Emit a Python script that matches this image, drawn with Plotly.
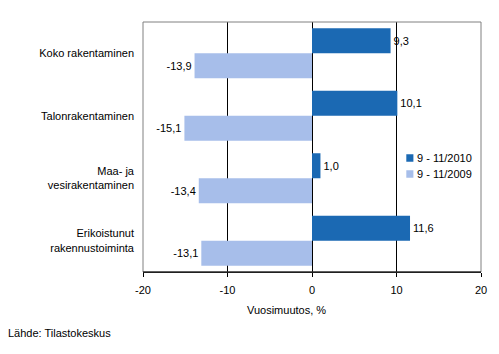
import plotly.graph_objects as go

categories = ["Koko rakentaminen", "Talonrakentaminen", "Maa- ja<br>vesirakentaminen",
              "Erikoistunut<br>rakennustoiminta"]
series_names = ["9 - 11/2010", "9 - 11/2009"]
values_2010 = [9.3, 10.1, 1.0, 11.6]
values_2009 = [-13.9, -15.1, -13.4, -13.1]
x_ticks = [-20, -10, 0, 10, 20]
colors = ["#1B69B3", "#A7BEEA"]

def fmt(v):
    return f"{v:.1f}".replace(".", ",")

fig = go.Figure()
for name, vals, col in zip(series_names, [values_2010, values_2009], colors):
    fig.add_trace(go.Bar(
        y=categories, x=vals, orientation="h", name=name,
        marker=dict(color=col, line=dict(width=0)),
        text=[fmt(v) for v in vals], textposition="outside",
        textfont=dict(family="Liberation Sans, Arial", size=11, color="black"),
        cliponaxis=False, showlegend=False,
    ))

shapes = [dict(type="rect", xref="paper", yref="paper", x0=0, x1=1, y0=0, y1=1,
               line=dict(color="#808080", width=1), layer="above"),
          dict(type="line", xref="paper", yref="paper", x0=0, x1=1, y0=0, y1=0,
               line=dict(color="black", width=1), layer="above")]
annotations = [
    dict(text="Vuosimuutos, %", xref="paper", yref="paper", x=0.426, y=-0.152,
         showarrow=False, xanchor="center", yanchor="middle", font=dict(size=11)),
    dict(text="Lähde: Tilastokeskus", xref="paper", yref="paper", x=-0.406, y=-0.244,
         showarrow=False, xanchor="left", yanchor="middle", font=dict(size=11)),
]
# custom legend (small squares + labels)
leg_y = [0.456, 0.392]
for name, col, yc in zip(series_names, colors, leg_y):
    shapes.append(dict(type="rect", xref="paper", yref="paper",
                       x0=0.779, x1=0.800, y0=yc - 0.015, y1=yc + 0.015,
                       fillcolor=col, line=dict(width=0), layer="above"))
    annotations.append(dict(text=name, xref="paper", yref="paper", x=0.806, y=yc,
                            showarrow=False, xanchor="left", yanchor="middle",
                            font=dict(size=11)))

fig.update_layout(
    width=499, height=354,
    margin=dict(l=143, r=16, t=22, b=82),
    paper_bgcolor="white", plot_bgcolor="white",
    barmode="group", bargap=0.2, bargroupgap=0,
    font=dict(family="Liberation Sans, Arial", size=11, color="black"),
    showlegend=False,
    xaxis=dict(range=[-20, 20], tickvals=x_ticks, ticktext=[str(t) for t in x_ticks],
               showgrid=True, gridcolor="black", gridwidth=1,
               zeroline=True, zerolinecolor="black", zerolinewidth=1,
               showline=True, linecolor="black", linewidth=1,
               ticks="outside", ticklen=4, tickcolor="black",
               ticklabelstandoff=4,
               tickfont=dict(size=11)),
    yaxis=dict(autorange="reversed", showgrid=False, zeroline=False,
               showline=False, ticks="", ticklabelstandoff=8,
               tickfont=dict(size=11)),
    shapes=shapes,
    annotations=annotations,
)

fig.write_html("out.html")
